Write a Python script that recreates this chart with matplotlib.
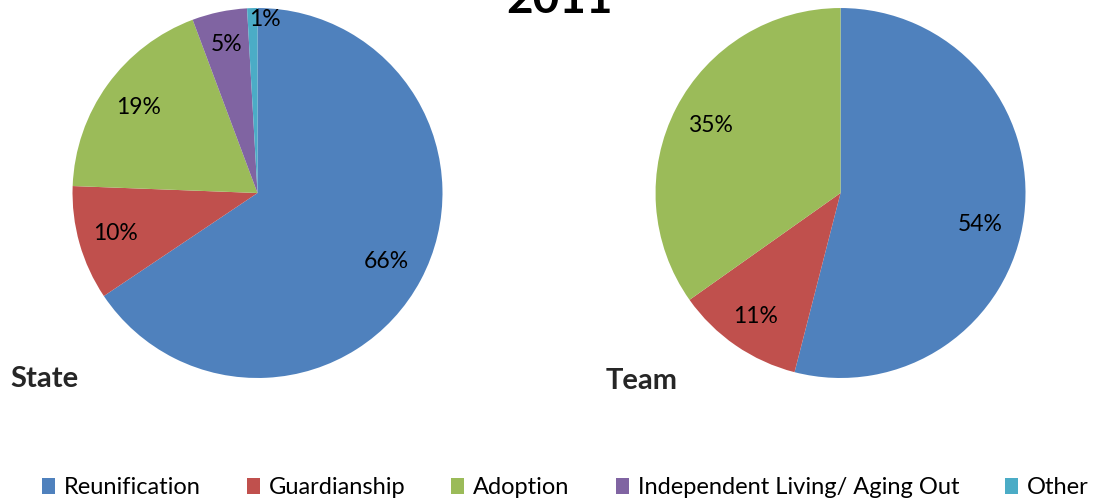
import matplotlib
matplotlib.use('Agg')
import matplotlib.pyplot as plt
import numpy as np

plt.rcParams['font.family'] = ['Lato', 'DejaVu Sans']

categories = ['Reunification', 'Guardianship', 'Adoption',
              'Independent Living/ Aging Out', 'Other']
state_values = [65.6, 10.0, 18.7, 4.8, 0.9]
state_labels = ['66%', '10%', '19%', '5%', '1%']
team_values = [54.0, 11.2, 34.8, 0.0, 0.0]
team_labels = ['54%', '11%', '35%', '', '']

colors = ['#4F81BD', '#C0504D', '#9BBB59', '#8064A2', '#4BACC6']


def draw_pie(ax, values, labels, dist, nudge):
    wedges, _ = ax.pie(values, colors=colors, startangle=90, counterclock=False,
                       radius=1.0, wedgeprops={'linewidth': 0})
    for i, w in enumerate(wedges):
        if not labels[i]:
            continue
        theta = np.deg2rad((w.theta1 + w.theta2) / 2.0)
        x, y = dist[i] * np.cos(theta), dist[i] * np.sin(theta)
        ax.annotate(labels[i], (x, y), xytext=nudge[i], textcoords='offset points',
                    ha='center', va='center', fontsize=16.5, color='black')
    ax.set_xlim(-1, 1)
    ax.set_ylim(-1, 1)
    ax.set_aspect('equal')
    ax.axis('off')
    return wedges


fig = plt.figure(figsize=(11.04, 5.04), dpi=100)

ax1 = fig.add_axes([0.0657, 0.25, 0.3351, 0.7341])
wedges = draw_pie(ax1, state_values, state_labels,
                  [0.79, 0.80, 0.79, 0.82, 0.94],
                  [(0, 0), (0, 0), (0, 0), (0, 0), (9, 0)])

ax2 = fig.add_axes([0.5938, 0.25, 0.3351, 0.7341])
draw_pie(ax2, team_values, team_labels,
         [0.77, 0.81, 0.79, 0.8, 0.8],
         [(-1, -10), (0, 0), (0, 0), (0, 0), (0, 0)])

fig.text(0.507, 1 - 13 / 504., '2011', ha='center', va='baseline',
         fontsize=33, fontweight='bold')
fig.text(0.009, 1 - 387 / 504., 'State', ha='left', va='baseline',
         fontsize=21, fontweight='bold', color='#262626')
fig.text(0.549, 1 - 389 / 504., 'Team', ha='left', va='baseline',
         fontsize=21, fontweight='bold', color='#262626')

fig.legend(wedges, categories, loc='center', ncol=5, frameon=False,
           bbox_to_anchor=(0.512, 0.032), fontsize=17,
           handlelength=0.55, handleheight=0.7, handletextpad=0.38,
           columnspacing=1.95, borderpad=0, borderaxespad=0)

fig.savefig('out.png', dpi=100)
